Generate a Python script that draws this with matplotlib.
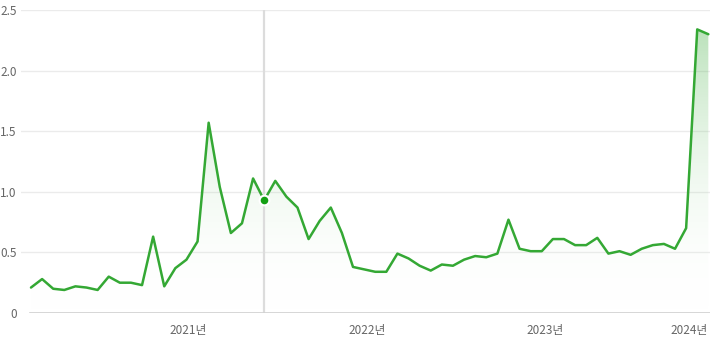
import matplotlib
matplotlib.use("Agg")
import matplotlib.pyplot as plt
import numpy as np
from matplotlib.patches import Polygon
from matplotlib.colors import LinearSegmentedColormap

values = [0.21, 0.28, 0.20, 0.19, 0.22, 0.21, 0.19, 0.30, 0.25, 0.25,
          0.23, 0.63, 0.22, 0.37, 0.44, 0.59, 1.57, 1.04, 0.66, 0.74,
          1.11, 0.93, 1.09, 0.96, 0.87, 0.61, 0.76, 0.87, 0.66, 0.38,
          0.36, 0.34, 0.34, 0.49, 0.45, 0.39, 0.35, 0.40, 0.39, 0.44,
          0.47, 0.46, 0.49, 0.77, 0.53, 0.51, 0.51, 0.61, 0.61, 0.56,
          0.56, 0.62, 0.49, 0.51, 0.48, 0.53, 0.56, 0.57, 0.53, 0.70,
          2.34, 2.30]
year_labels = ["2021년", "2022년", "2023년", "2024년"]
year_pos = [14.2, 30.3, 46.3, 59.3]
y_ticks = [0, 0.5, 1.0, 1.5, 2.0, 2.5]
y_tick_labels = ["0", "0.5", "1.0", "1.5", "2.0", "2.5"]
hover_index = 21

FONT = ["Noto Sans CJK KR", "DejaVu Sans"]
plt.rcParams["font.family"] = FONT

W, H = 712, 342
fig = plt.figure(figsize=(W / 100, H / 100), dpi=100)
left_px, right_px, top_px, bot_px = 21, 710, 10, 313
ax = fig.add_axes([left_px / W, 1 - bot_px / H, (right_px - left_px) / W, (bot_px - top_px) / H])

x = np.arange(len(values))
y = np.array(values)
ax.set_xlim(-0.9, 61.15)
ax.set_ylim(0, 2.5)

green = "#34a834"

# gradient fill under the line
grad = np.linspace(0, 1, 256).reshape(-1, 1)
cmap = LinearSegmentedColormap.from_list("g", [(1, 1, 1, 0), (0.2, 0.66, 0.2, 0.38)])
im = ax.imshow(grad, extent=[x[0], x[-1], 0, 2.5], origin="lower", aspect="auto",
               cmap=cmap, zorder=1, interpolation="bilinear")
poly = Polygon(np.column_stack([np.r_[x[0], x, x[-1]], np.r_[0, y, 0]]), closed=True,
               facecolor="none", edgecolor="none")
ax.add_patch(poly)
im.set_clip_path(poly)

# gridlines
for t in y_ticks[1:]:
    ax.axhline(t, color="#ebebeb", lw=1, zorder=0)
ax.axhline(0, xmin=(-0.1 + 0.9) / (61.15 + 0.9), color="#d0d0d0", lw=1.2, zorder=2)

# hover line
ax.axvline(x[hover_index], color="#dcdcdc", lw=1.6, zorder=1.5)

ax.plot(x, y, color=green, lw=1.8, solid_joinstyle="round", solid_capstyle="round", zorder=3)
ax.plot([x[hover_index]], [y[hover_index]], "o", color="#14a014", markersize=7,
        markeredgecolor="white", markeredgewidth=1.5, zorder=4)

for s in ax.spines.values():
    s.set_visible(False)
ax.set_yticks(y_ticks)
ax.set_yticklabels(y_tick_labels)
ax.set_xticks(year_pos)
ax.set_xticklabels(year_labels)
ax.tick_params(axis="both", length=0, labelsize=8.5, labelcolor="#666666")
ax.tick_params(axis="y", pad=3)
ax.tick_params(axis="x", pad=8)

fig.savefig("out.png", dpi=100)
